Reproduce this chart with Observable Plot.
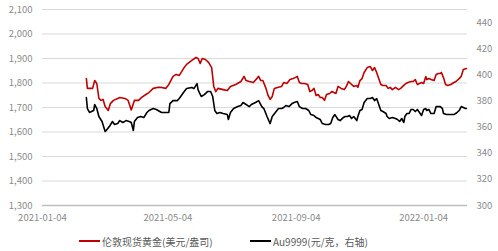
<!DOCTYPE html>
<html><head><meta charset="utf-8">
<script src="https://cdn.jsdelivr.net/npm/d3@7"></script>
<script src="https://cdn.jsdelivr.net/npm/@observablehq/plot@0.6"></script>
<style>
body{margin:0;background:#fff;font-family:"Microsoft YaHei","Noto Sans CJK SC",sans-serif;}
#wrap{width:498px;height:251px;position:relative;overflow:hidden;background:#fff}
.legend{position:absolute;top:234px;left:0;width:498px;height:16px;font-size:10px;color:#595959}
.item{position:absolute;top:0;display:flex;align-items:center;white-space:nowrap;height:14px}
.sw{display:inline-block;width:21px;height:2px;margin-right:2px}
</style></head>
<body>
<div id="wrap"><div id="chart"></div>
<div class="legend">
  <div class="item" style="left:79px"><span class="sw" style="background:#c00000"></span><span id="l1"></span></div>
  <div class="item" style="left:250px"><span class="sw" style="background:#000"></span><span id="l2"></span></div>
</div></div>
<script>
const seriesNames = ["伦敦现货黄金(美元/盎司)", "Au9999(元/克，右轴)"];
const leftTicks = [1300,1400,1500,1600,1700,1800,1900,2000,2100];
const rightTicks = [300,320,340,360,380,400,420,440];
const xTicks = ["2021-01-04","2021-05-04","2021-09-04","2022-01-04"];
const xDomain = ["2021-01-04","2022-02-15"];

const goldDates = ["2021-02-15","2021-02-16","2021-02-21","2021-02-23","2021-02-25","2021-02-27","2021-03-01","2021-03-03","2021-03-05","2021-03-08","2021-03-10","2021-03-13","2021-03-17","2021-03-19","2021-03-24","2021-03-27","2021-03-30","2021-04-02","2021-04-06","2021-04-09","2021-04-13","2021-04-16","2021-04-20","2021-04-24","2021-04-28","2021-05-02","2021-05-05","2021-05-09","2021-05-12","2021-05-15","2021-05-19","2021-05-22","2021-05-27","2021-05-31","2021-06-02","2021-06-04","2021-06-06","2021-06-09","2021-06-12","2021-06-15","2021-06-17","2021-06-19","2021-06-21","2021-06-26","2021-06-30","2021-07-03","2021-07-08","2021-07-13","2021-07-16","2021-07-18","2021-07-21","2021-07-25","2021-07-30","2021-08-01","2021-08-03","2021-08-06","2021-08-08","2021-08-10","2021-08-12","2021-08-14","2021-08-17","2021-08-21","2021-08-23","2021-08-26","2021-08-29","2021-09-01","2021-09-03","2021-09-05","2021-09-07","2021-09-09","2021-09-12","2021-09-15","2021-09-17","2021-09-19","2021-09-21","2021-09-23","2021-09-25","2021-09-27","2021-09-29","2021-10-01","2021-10-03","2021-10-06","2021-10-08","2021-10-12","2021-10-14","2021-10-17","2021-10-20","2021-10-22","2021-10-24","2021-10-26","2021-10-29","2021-11-01","2021-11-02","2021-11-04","2021-11-06","2021-11-08","2021-11-11","2021-11-14","2021-11-16","2021-11-18","2021-11-20","2021-11-22","2021-11-24","2021-11-26","2021-11-29","2021-12-01","2021-12-03","2021-12-05","2021-12-08","2021-12-11","2021-12-13","2021-12-16","2021-12-18","2021-12-20","2021-12-23","2021-12-25","2021-12-27","2021-12-29","2021-12-31","2022-01-02","2022-01-04","2022-01-06","2022-01-07","2022-01-09","2022-01-11","2022-01-14","2022-01-16","2022-01-18","2022-01-20","2022-01-21","2022-01-23","2022-01-25","2022-01-27","2022-01-30","2022-02-02","2022-02-04","2022-02-07","2022-02-09","2022-02-11","2022-02-14"];
const goldValues = [1818,1778,1778,1810,1798,1737,1729,1733,1704,1688,1716,1729,1737,1741,1737,1729,1690,1729,1729,1741,1753,1761,1778,1782,1782,1778,1794,1827,1835,1831,1859,1876,1892,1904,1900,1880,1900,1896,1884,1863,1786,1765,1778,1773,1769,1786,1794,1806,1827,1810,1806,1802,1827,1810,1810,1778,1749,1733,1745,1778,1782,1786,1802,1798,1814,1818,1822,1827,1802,1798,1798,1794,1765,1769,1778,1749,1753,1741,1741,1729,1753,1757,1765,1757,1786,1778,1773,1786,1806,1798,1786,1790,1782,1810,1818,1843,1863,1867,1851,1863,1843,1818,1794,1790,1790,1778,1782,1773,1782,1773,1778,1790,1798,1802,1806,1806,1814,1794,1798,1802,1798,1826,1814,1818,1814,1810,1835,1839,1839,1843,1822,1794,1790,1794,1802,1806,1818,1827,1855,1859];

const auDates = ["2021-02-15","2021-02-16","2021-02-18","2021-02-22","2021-02-23","2021-02-25","2021-02-27","2021-03-02","2021-03-05","2021-03-06","2021-03-09","2021-03-12","2021-03-14","2021-03-17","2021-03-19","2021-03-22","2021-03-25","2021-03-28","2021-03-30","2021-04-01","2021-04-02","2021-04-05","2021-04-08","2021-04-11","2021-04-14","2021-04-16","2021-04-20","2021-04-23","2021-04-28","2021-05-02","2021-05-05","2021-05-06","2021-05-09","2021-05-13","2021-05-15","2021-05-19","2021-05-22","2021-05-27","2021-05-29","2021-06-01","2021-06-02","2021-06-05","2021-06-08","2021-06-11","2021-06-14","2021-06-16","2021-06-18","2021-06-20","2021-06-23","2021-06-26","2021-06-30","2021-07-01","2021-07-03","2021-07-06","2021-07-10","2021-07-13","2021-07-15","2021-07-18","2021-07-21","2021-07-23","2021-07-27","2021-07-30","2021-08-02","2021-08-04","2021-08-07","2021-08-10","2021-08-12","2021-08-15","2021-08-18","2021-08-21","2021-08-23","2021-08-25","2021-08-28","2021-08-31","2021-09-02","2021-09-05","2021-09-07","2021-09-10","2021-09-13","2021-09-16","2021-09-18","2021-09-21","2021-09-23","2021-09-25","2021-09-27","2021-09-29","2021-10-02","2021-10-05","2021-10-07","2021-10-09","2021-10-11","2021-10-14","2021-10-16","2021-10-19","2021-10-21","2021-10-23","2021-10-25","2021-10-27","2021-10-29","2021-11-01","2021-11-02","2021-11-04","2021-11-06","2021-11-08","2021-11-11","2021-11-14","2021-11-16","2021-11-18","2021-11-20","2021-11-22","2021-11-24","2021-11-26","2021-11-29","2021-11-30","2021-12-02","2021-12-05","2021-12-08","2021-12-10","2021-12-12","2021-12-14","2021-12-16","2021-12-17","2021-12-19","2021-12-21","2021-12-23","2021-12-25","2021-12-27","2021-12-29","2021-12-31","2022-01-02","2022-01-04","2022-01-06","2022-01-07","2022-01-09","2022-01-11","2022-01-14","2022-01-16","2022-01-18","2022-01-20","2022-01-22","2022-01-23","2022-01-26","2022-01-30","2022-02-02","2022-02-05","2022-02-07","2022-02-09","2022-02-11","2022-02-13","2022-02-14"];
const auValues = [382.6,374.2,371.2,372.7,377.3,374.2,368.1,364.3,356.6,357.4,360.4,364.3,362.0,362.7,365.0,363.5,365.0,364.3,363.5,357.4,364.3,367.3,368.1,367.3,371.2,372.7,374.2,373.5,371.2,371.2,371.2,378.0,380.3,380.3,381.9,386.5,389.5,390.3,389.5,393.3,388.5,383.4,384.9,387.2,387.2,383.4,372.7,370.4,371.2,370.4,369.6,365.8,371.2,374.2,375.7,376.5,378.8,377.3,375.7,377.3,378.8,380.3,375.7,374.2,368.1,362.7,368.1,371.2,374.2,374.2,375.0,376.5,375.7,378.0,378.8,379.6,375.7,374.2,374.2,372.7,369.6,368.9,367.3,366.6,365.8,362.7,362.0,362.0,362.7,367.3,369.6,365.8,365.0,367.3,368.1,368.1,368.9,366.6,368.1,365.0,368.1,372.7,373.5,378.8,381.9,381.9,382.6,380.3,381.9,377.3,372.7,371.9,370.4,368.1,366.6,367.3,366.6,365.8,364.3,366.6,363.5,368.1,370.4,370.4,373.5,373.5,371.9,373.5,371.2,368.9,373.5,374.2,372.7,373.5,370.4,370.4,375.7,375.7,375.7,374.2,370.4,369.6,369.6,369.6,371.2,372.7,375.7,375.0,374.2,374.2];

document.getElementById("l1").textContent = seriesNames[0];
document.getElementById("l2").textContent = seriesNames[1];

const L0 = leftTicks[0], L1 = leftTicks[leftTicks.length-1];
const R0 = 300, R1 = 450;
const toLeft = v => L0 + (v - R0) * (L1 - L0) / (R1 - R0);
const fromLeft = v => R0 + (v - L0) * (R1 - R0) / (L1 - L0);

const gold = goldDates.map((d, i) => ({date: new Date(d), value: goldValues[i]}));
const au = auDates.map((d, i) => ({date: new Date(d), value: toLeft(auValues[i])}));

const font = '"Microsoft YaHei","Noto Sans CJK SC",sans-serif';
const chart = Plot.plot({
  width: 498, height: 228,
  marginTop: 9, marginBottom: 23, marginLeft: 42, marginRight: 31,
  style: {fontSize: "9.5px", fontFamily: font, color: "#8a8a8a", background: "#fff"},
  x: {type: "utc", domain: xDomain.map(d => new Date(d))},
  y: {domain: [L0, L1]},
  marks: [
    Plot.gridY(leftTicks, {stroke: "#d9d9d9", strokeOpacity: 1}),
    Plot.ruleY([L0], {stroke: "#bfbfbf", strokeWidth: 1.5}),
    Plot.axisY(leftTicks, {tickSize: 0, tickPadding: 10, tickFormat: d3.format(","), label: null}),
    Plot.axisY(rightTicks.map(toLeft), {anchor: "right", tickSize: 0, tickPadding: 9, tickFormat: d => Math.round(fromLeft(d)), label: null}),
    Plot.axisX(xTicks.map(d => new Date(d)), {tickSize: 0, tickPadding: 9, tickFormat: d3.utcFormat("%Y-%m-%d"), label: null}),
    Plot.line(au, {x: "date", y: "value", stroke: "#000", strokeWidth: 1.6}),
    Plot.line(gold, {x: "date", y: "value", stroke: "#c00000", strokeWidth: 1.6})
  ]
});
document.getElementById("chart").appendChild(chart);
</script>
</body></html>
